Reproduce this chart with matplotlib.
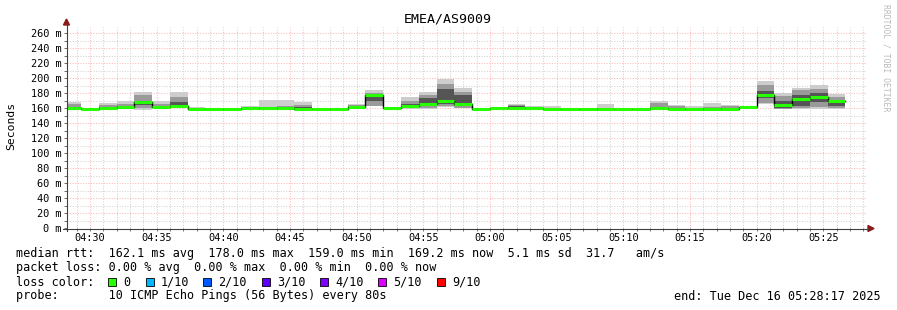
import pandas as pd
import matplotlib
matplotlib.use('Agg')
import matplotlib.pyplot as plt
import matplotlib.dates as mdates
from matplotlib.patches import Rectangle, Polygon
from matplotlib.lines import Line2D

# 80 s steps, 44 of them with data
step_start = pd.date_range('2025-12-16 04:28:00', periods=44, freq='80s')

median = [160.0, 159.0, 159.5, 160.8, 168.0, 160.8, 162.5, 159.2, 159.2, 159.2,
          159.5, 160.0, 160.0, 159.0, 159.0, 159.0, 161.8, 177.0, 160.4, 162.7,
          165.3, 169.0, 165.3, 159.1, 160.0, 160.0, 160.0, 159.1, 159.1, 159.1,
          159.1, 159.1, 159.1, 160.0, 159.1, 159.1, 159.1, 159.1, 161.8, 178.0,
          164.4, 171.6, 174.2, 169.2]

# smoke: outer (min..max), middle and inner ping pairs
smoke_max = [168, 159, 167, 169.5, 181, 169.5, 181, 161.8, 159.2, 159.2,
             162.7, 170.7, 170.7, 168, 159, 159, 166, 184, 160.4, 175,
             181, 199, 187, 159.1, 161.8, 166, 162.7, 162.7, 159.1, 159.1,
             165.3, 159.1, 159.1, 169.8, 164.4, 162.7, 167, 164.4, 161.8, 195.6,
             180.4, 186.7, 190.2, 178.7]
mid_hi = [165, 159, 164, 166, 177, 166, 175, 160.5, 159.2, 159.2,
          160, 162, 163, 164, 159, 159, 164, 180, 160.4, 170,
          177, 192, 182, 159.1, 160.5, 164, 161.5, 160.5, 159.1, 159.1,
          160.5, 159.1, 159.1, 167, 163, 160, 161, 163, 161.8, 191,
          176, 184, 185, 175]
in_hi = [161, 159, 161, 163, 168.5, 162, 168, 159.5, 159.2, 159.2,
         159.5, 160.5, 160.5, 161, 159, 159, 162.5, 177.5, 160.4, 165,
         173, 186, 177, 159.1, 160, 162.5, 160.5, 159.5, 159.1, 159.1,
         159.5, 159.1, 159.1, 162, 160.5, 159.5, 160, 160.5, 161.8, 183,
         169, 178, 180, 171]
in_lo = [159.5, 159, 159, 160, 163.5, 160, 162, 159, 159.2, 159.2,
         159.2, 159.5, 159.5, 159, 159, 159, 161, 170, 160.4, 161,
         163, 166, 163, 159.1, 160, 160, 160, 159.1, 159.1, 159.1,
         159.1, 159.1, 159.1, 160, 159.1, 159.1, 159.1, 159.1, 161.8, 173,
         160.5, 163, 168, 163]
mid_lo = [159.5, 159, 159, 159.5, 160, 159.5, 160, 159, 159.2, 159.2,
          159.2, 159.5, 159.5, 159, 159, 159, 160, 163, 160.4, 159.5,
          160, 163, 160.5, 159.1, 160, 160, 160, 159.1, 159.1, 159.1,
          159.1, 159.1, 159.1, 160, 159.1, 159.1, 159.1, 159.1, 161.8, 167,
          159, 160, 161, 160]
smoke_min = [159.5, 159, 159, 159.5, 158, 159.5, 159.5, 159, 159.2, 159.2,
             159.2, 159.5, 159.5, 159, 159, 159, 159.5, 162.5, 160.4, 158.5,
             158.5, 161, 160, 159.1, 160, 160, 160, 159.1, 159.1, 159.1,
             159.1, 159.1, 159.1, 160, 159.1, 159.1, 159.1, 159.1, 161.8, 165,
             158.2, 158.2, 158.2, 158.7]

yticks = list(range(0, 261, 20))
loss_labels = ['0', '1/10', '2/10', '3/10', '4/10', '5/10', '9/10']
loss_colors = ['#26ff00', '#00b8ff', '#0059ff', '#5e00ff', '#7e00ff', '#dd00ff', '#ff0000']

W, H = 897, 310
mono = 'DejaVu Sans Mono'


def px(x, y):
    return (x / W, 1 - y / H)


fig = plt.figure(figsize=(W / 100, H / 100), dpi=100)
ax = fig.add_axes([67 / W, 82 / H, 800 / W, 201 / H])

x = mdates.date2num(step_start.to_pydatetime())
w = 80 / 86400.0

# smoke layers
ax.bar(x, [a - b for a, b in zip(smoke_max, smoke_min)], width=w, bottom=smoke_min,
       align='edge', color='#cdcdcd', lw=0, zorder=2)
ax.bar(x, [a - b for a, b in zip(mid_hi, mid_lo)], width=w, bottom=mid_lo,
       align='edge', color='#9a9a9a', lw=0, zorder=3)
ax.bar(x, [a - b for a, b in zip(in_hi, in_lo)], width=w, bottom=in_lo,
       align='edge', color='#555555', lw=0, zorder=4)

# median: black connectors, green segments
xs = list(x) + [x[-1] + w]
ax.step(xs, median + [median[-1]], where='post', color='black', lw=1.0, zorder=5)
ax.hlines(median, x, [v + w for v in x], color=loss_colors[0], lw=2.2, zorder=6)

t0 = mdates.date2num(pd.Timestamp('2025-12-16 04:28:17').to_pydatetime())
ax.set_xlim(t0, t0 + 1 / 24)
ax.set_ylim(0, 268)

ax.set_yticks(yticks)
ax.set_yticks(range(0, 268, 10), minor=True)
ax.set_yticklabels([f'{v} m' for v in yticks], fontfamily=mono, fontsize=7.4)
ax.xaxis.set_major_locator(mdates.MinuteLocator(byminute=range(0, 60, 5)))
ax.xaxis.set_minor_locator(mdates.MinuteLocator())
ax.xaxis.set_major_formatter(mdates.DateFormatter('%H:%M'))
for lab in ax.get_xticklabels():
    lab.set_fontfamily(mono)
    lab.set_fontsize(7.4)
ax.tick_params(which='both', length=2, width=0.6, color='#555555', pad=2)
ax.tick_params(axis='x', pad=1.5)

ax.grid(which='minor', color='#d2d2d2', linestyle=(0, (1, 1.5)), lw=0.75, zorder=0)
ax.grid(which='major', color='#ffb8b8', linestyle=(0, (1, 1.5)), lw=0.75, zorder=1)
ax.set_axisbelow(True)
for s in ax.spines.values():
    s.set_visible(False)

# axes with arrows
fig.add_artist(Line2D(*zip(px(66.5, 231), px(66.5, 24)), color='#404040', lw=0.8))
fig.add_artist(Line2D(*zip(px(63, 228.5), px(868, 228.5)), color='#404040', lw=0.8))
fig.add_artist(Polygon([px(63.5, 25), px(69.5, 25), px(66.5, 19)], closed=True,
                       color='#8b1a1a', transform=fig.transFigure))
fig.add_artist(Polygon([px(868, 225.5), px(868, 231.5), px(874, 228.5)], closed=True,
                       color='#8b1a1a', transform=fig.transFigure))

fig.text(*px(448, 19), 'EMEA/AS9009', fontfamily=mono, fontsize=9.5,
         ha='center', va='center')
fig.text(*px(11, 126), 'Seconds', fontfamily=mono, fontsize=8.2,
         rotation=90, ha='center', va='center')
fig.text(*px(886, 58), 'RRDTOOL / TOBI OETIKER', fontfamily=mono, fontsize=5.9,
         rotation=-90, ha='center', va='center', color='#bbbbbb')

fs = 8.5
fig.text(*px(16, 254), 'median rtt:  162.1 ms avg  178.0 ms max  159.0 ms min  '
         '169.2 ms now  5.1 ms sd  31.7   am/s', fontfamily=mono, fontsize=fs, va='center')
fig.text(*px(16, 268), 'packet loss: 0.00 % avg  0.00 % max  0.00 % min  0.00 % now',
         fontfamily=mono, fontsize=fs, va='center')
fig.text(*px(16, 282), 'loss color:', fontfamily=mono, fontsize=fs, va='center')
sq_x = [108, 146, 203, 262, 320, 378, 437]
for sx, lab, col in zip(sq_x, loss_labels, loss_colors):
    x0, y0 = px(sx, 286)
    fig.add_artist(Rectangle((x0, y0), 7.5 / W, 8.5 / H, facecolor=col,
                             edgecolor='black', lw=0.6, transform=fig.transFigure))
    fig.text(*px(sx + 15, 282), lab, fontfamily=mono, fontsize=fs, va='center')
fig.text(*px(16, 296), 'probe:       10 ICMP Echo Pings (56 Bytes) every 80s',
         fontfamily=mono, fontsize=fs, va='center')
fig.text(*px(881, 296), 'end: Tue Dec 16 05:28:17 2025', fontfamily=mono,
         fontsize=fs, va='center', ha='right')

fig.savefig('out.png', dpi=100, facecolor='white')
